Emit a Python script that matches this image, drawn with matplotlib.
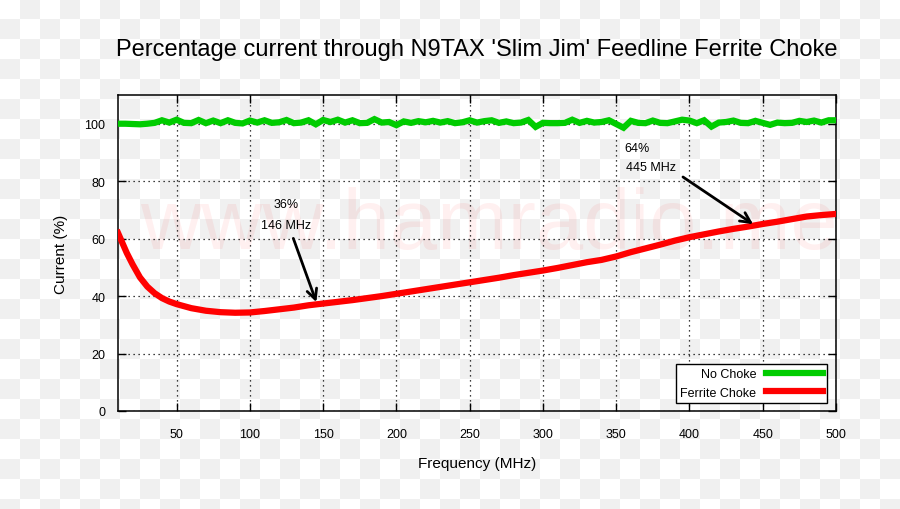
import numpy as np
import matplotlib
matplotlib.use("Agg")
import matplotlib.pyplot as plt

plt.rcParams['font.family'] = ['Liberation Sans', 'DejaVu Sans']

# no choke, sampled every 5 MHz
freq_no = np.arange(10, 505, 5)
current_no = [
    100.0, 100.0, 99.9, 99.8, 100.0, 100.3, 101.2, 100.4, 101.4, 100.3,
    100.2, 101.3, 100.2, 101.1, 100.2, 101.2, 100.3, 100.1, 101.1, 100.4,
    101.2, 100.3, 100.5, 101.3, 100.2, 100.4, 101.2, 99.8, 101.3, 100.6,
    101.4, 100.4, 101.2, 100.2, 100.3, 101.6, 100.4, 100.6, 99.5, 100.8,
    100.3, 100.9, 100.5, 101.0, 100.4, 100.9, 100.2, 100.5, 101.2, 100.4,
    100.9, 101.2, 100.3, 100.8, 100.2, 100.4, 101.3, 98.9, 100.3, 100.2,
    100.2, 100.3, 101.4, 100.3, 101.0, 100.4, 100.6, 101.2, 99.9, 98.6,
    101.0, 100.3, 100.2, 101.1, 100.3, 100.2, 100.8, 101.4, 101.1, 100.2,
    101.2, 99.0, 100.4, 100.6, 101.1, 100.3, 100.2, 101.0, 100.3, 99.6,
    100.4, 100.2, 100.3, 101.0, 100.6, 101.1, 100.4, 101.2, 101.2,
]

# ferrite choke
freq_fc = [10, 13, 16, 20, 25, 30, 35, 40, 45, 50, 60, 70, 80, 90, 100, 110,
           120, 130, 140, 150, 160, 170, 180, 190, 200, 210, 220, 230, 240,
           250, 260, 270, 280, 290, 300, 310, 320, 330, 340, 350, 360, 370,
           380, 390, 400, 410, 420, 430, 440, 450, 460, 470, 480, 490, 500]
current_fc = [62.0, 58.5, 55.0, 51.0, 46.5, 43.3, 41.0, 39.3, 38.1, 37.2,
              35.8, 34.9, 34.4, 34.2, 34.3, 34.8, 35.4, 36.0, 36.8, 37.4,
              38.0, 38.6, 39.3, 40.0, 40.8, 41.6, 42.4, 43.2, 44.0, 44.8,
              45.6, 46.4, 47.3, 48.1, 48.9, 49.8, 50.8, 51.8, 52.6, 53.8,
              55.3, 56.6, 57.9, 59.3, 60.5, 61.5, 62.5, 63.4, 64.2, 65.1,
              65.9, 66.8, 67.7, 68.2, 68.6]

xticks = [50, 100, 150, 200, 250, 300, 350, 400, 450, 500]
yticks = [0, 20, 40, 60, 80, 100]

fig = plt.figure(figsize=(9, 5.1), dpi=100)

# checkerboard backdrop
bg = fig.add_axes([0, 0, 1, 1])
yy, xx = np.mgrid[0:510, 0:900]
checker = ((xx // 20 + yy // 20) % 2).astype(float)
bg.imshow(checker, cmap=matplotlib.colors.ListedColormap(['#ffffff', '#f0f0f0']),
          aspect='auto', interpolation='nearest')
bg.axis('off')

ax = fig.add_axes([118 / 900, 1 - 412 / 510, 718 / 900, 316 / 510])
ax.set_facecolor('none')

# watermark
ax.text(0.516, 0.585, 'www.hamradio.me', transform=ax.transAxes, ha='center',
        va='center', fontsize=61, color='#ff0000', alpha=0.06, zorder=0)

ax.plot(freq_no, current_no, color='#00cc00', lw=4.5, label='No Choke',
        solid_joinstyle='miter', zorder=3)
ax.plot(freq_fc, current_fc, color='#ff0000', lw=4.5, label='Ferrite Choke',
        zorder=3)

ax.set_xlim(10, 500)
ax.set_ylim(0, 110)
ax.set_xticks(xticks)
ax.set_yticks(yticks)
ax.tick_params(direction='in', length=6, width=1, top=True, right=True,
               labelsize=9, colors='black')
ax.tick_params(axis='x', pad=12)
ax.tick_params(axis='y', pad=9)
ax.grid(True, color='black', linestyle=(0, (1, 3)), linewidth=0.9)
for s in ax.spines.values():
    s.set_linewidth(1.1)

ax.set_xlabel('Frequency (MHz)', fontsize=11, labelpad=12)
ax.set_ylabel('Current (%)', fontsize=11, labelpad=12)
fig.text(477 / 900, 1 - 50 / 510, "Percentage current through N9TAX 'Slim Jim' Feedline Ferrite Choke",
         ha='center', va='center', fontsize=17)

ax.annotate('', xy=(146, 37.0), xytext=(129, 61),
            arrowprops=dict(arrowstyle='->', color='black', lw=2,
                            mutation_scale=18), zorder=4)
ax.text(124.5, 72.1, '36%', ha='center', va='center', fontsize=9)
ax.text(124.5, 64.8, '146 MHz', ha='center', va='center', fontsize=9)

ax.annotate('', xy=(445, 64.5), xytext=(394, 82),
            arrowprops=dict(arrowstyle='->', color='black', lw=2,
                            mutation_scale=18), zorder=4)
ax.text(364, 91.6, '64%', ha='center', va='center', fontsize=9)
ax.text(374, 85.0, '445 MHz', ha='center', va='center', fontsize=9)

leg = ax.legend(loc='lower right', bbox_to_anchor=(0.9875, 0.025),
                markerfirst=False, fontsize=9, fancybox=False,
                framealpha=1, edgecolor='black', handlelength=4.5,
                borderpad=0.35, labelspacing=0.5, handletextpad=0.8,
                borderaxespad=0)
leg.get_frame().set_linewidth(1)
leg.set_zorder(5)

fig.savefig('out.png', dpi=100)
